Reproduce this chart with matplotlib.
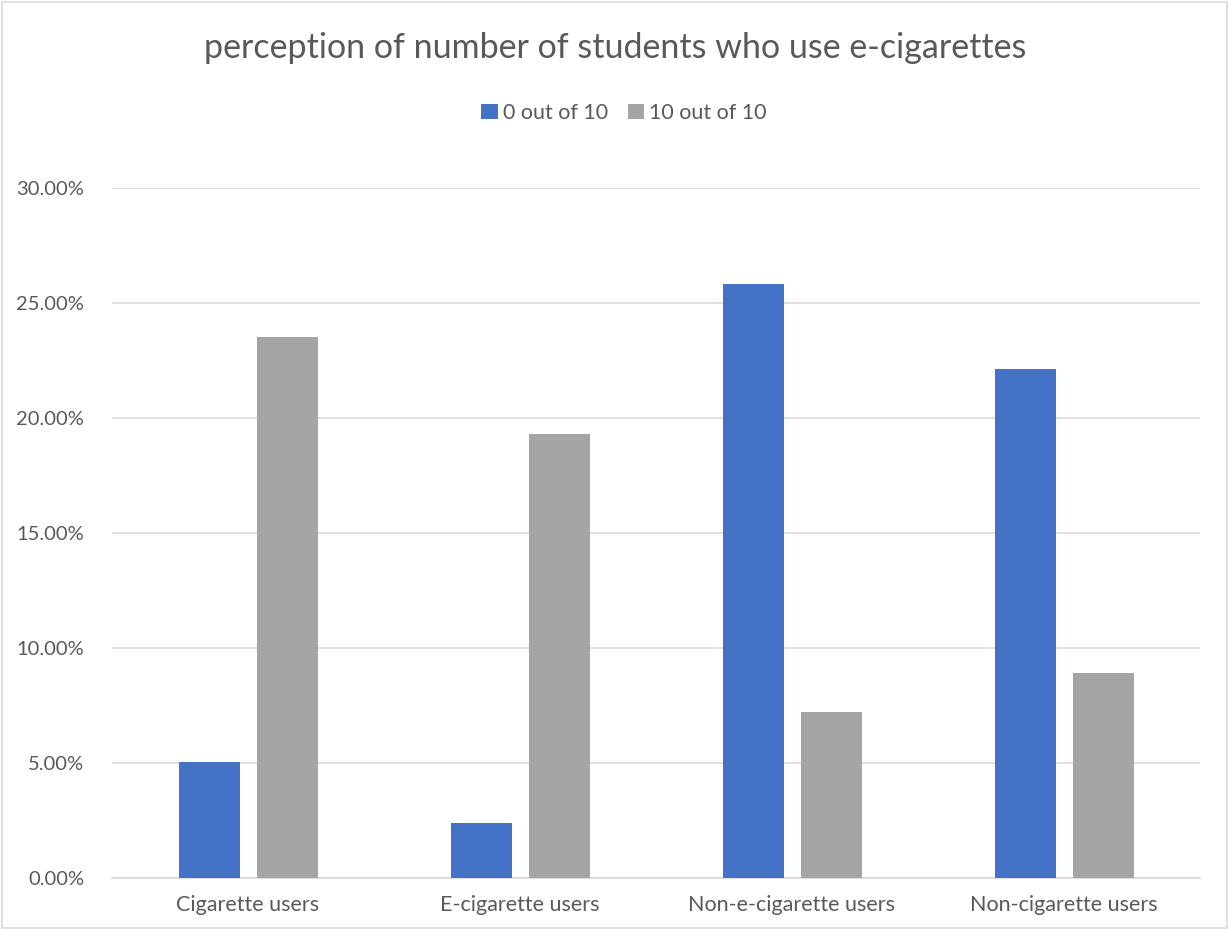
import numpy as np
import matplotlib.pyplot as plt
from matplotlib.ticker import PercentFormatter

plt.rcParams['font.family'] = ['Lato', 'DejaVu Sans']

categories = ['Cigarette users', 'E-cigarette users', 'Non-e-cigarette users', 'Non-cigarette users']
zero_of_10 = [0.0505, 0.0239, 0.2583, 0.2213]
ten_of_10 = [0.2352, 0.1930, 0.0722, 0.0891]

fig = plt.figure(figsize=(12.29, 9.30), dpi=100)
fig.patch.set_facecolor('white')
ax = fig.add_axes([112/1229, 1-878/930, (1200-112)/1229, (878-188)/930])

x = np.arange(len(categories))
w = 0.224
ax.bar(x - 0.1415, zero_of_10, w, color='#4472C4', label='0 out of 10', zorder=3)
ax.bar(x + 0.145, ten_of_10, w, color='#A5A5A5', label='10 out of 10', zorder=3)

ax.set_xlim(-0.5, len(categories) - 0.5)
ax.set_ylim(0, 0.30)
ax.set_yticks(np.arange(0, 0.301, 0.05))
ax.yaxis.set_major_formatter(PercentFormatter(1.0, decimals=2))
ax.set_xticks(x)
ax.set_xticklabels(categories)
ax.grid(axis='y', color='#D9D9D9', linewidth=1.2, zorder=0)
for s in ['top', 'right', 'left']:
    ax.spines[s].set_visible(False)
ax.spines['bottom'].set_color('#D9D9D9')
ax.spines['bottom'].set_linewidth(1.2)
ax.tick_params(axis='x', length=0, labelsize=15.5, colors='#595959', pad=12)
ax.tick_params(axis='y', length=0, labelsize=14.5, colors='#595959', pad=20)

fig.text(615/1229, 1-48/930, 'perception of number of students who use e-cigarettes',
         ha='center', va='center', fontsize=24.5, color='#595959')
fig.legend(loc='center', bbox_to_anchor=(624/1229, 1-113/930), ncol=2, frameon=False,
           fontsize=15.5, labelcolor='#595959', handlelength=0.75, handleheight=0.75,
           handletextpad=0.25, columnspacing=0.9)

border = plt.Rectangle((0.002, 0.002), 0.996, 0.996, transform=fig.transFigure,
                       fill=False, edgecolor='#D9D9D9', linewidth=1.2)
fig.patches.append(border)

fig.savefig('out.png', dpi=100)
